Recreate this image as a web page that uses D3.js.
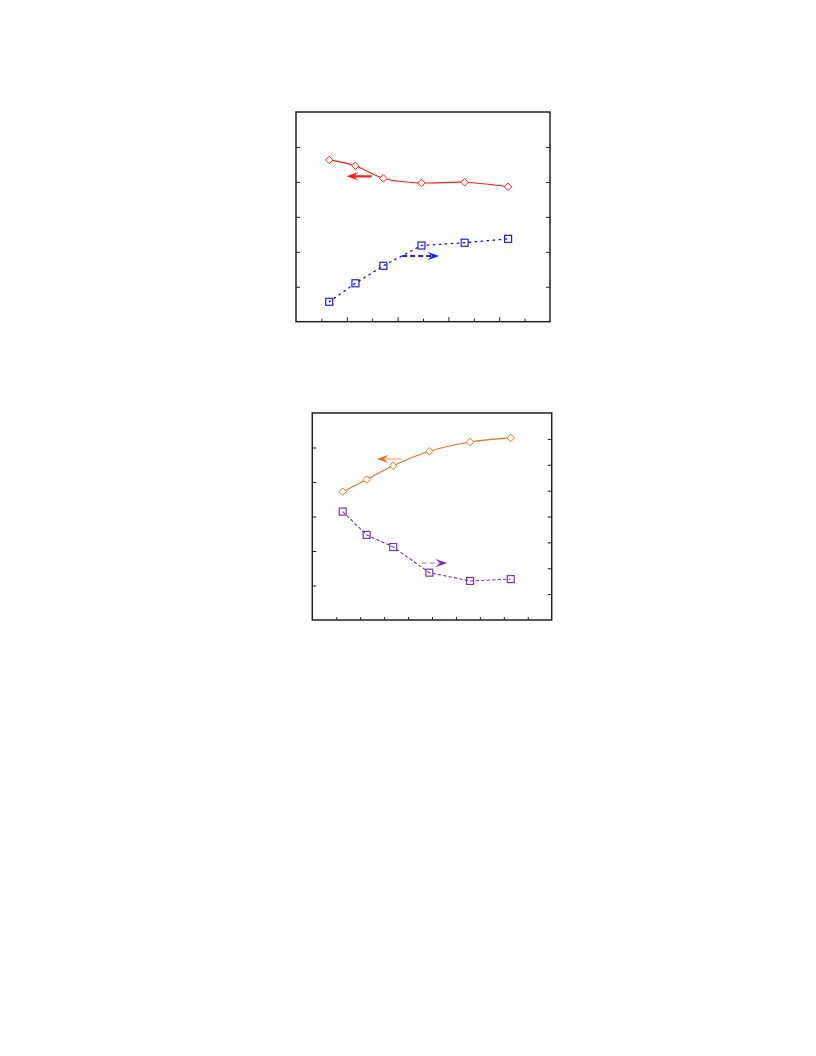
<!DOCTYPE html>
<html><head><meta charset="utf-8">
<script src="https://cdn.jsdelivr.net/npm/d3@7"></script>
<style>body{margin:0;background:#fff}svg{display:block}</style>
</head><body>
<script>
// ---- data ----
const xTop = [13.1, 23.4, 34.4, 49.4, 66.4, 83.5];
const redVals = [4.63, 4.46, 4.10, 3.97, 3.99, 3.86];      // left axis 0-6
const blueVals = [0.57, 1.10, 1.60, 2.18, 2.26, 2.37];     // right axis 0-6
const xBot = [12.7, 22.7, 33.8, 48.9, 65.9, 82.9];
const orangeVals = [3.72, 4.07, 4.47, 4.89, 5.16, 5.28];   // left axis 0-6
const purpleVals = [4.19, 3.29, 2.82, 1.83, 1.51, 1.58];   // right axis 0-8
const xTicks = [10, 20, 30, 40, 50, 60, 70, 80, 90];
const yTicksLeft = [1, 2, 3, 4, 5];
const yTicksRightBot = [1, 2, 3, 4, 5, 6, 7];
// arrow annotations [x0, x1, y] in data units
const arrowRed = [29.8, 19.9, 4.16];
const arrowBlue = [41.8, 56.4, 1.88];
const arrowOrange = [37.3, 26.9, 4.67];
const arrowPurple = [45.7, 56.4, 2.2];

const svg = d3.select("body").append("svg").attr("width", 816).attr("height", 1056);

function arrowHead(g, x, y, dir, color, len, half) {
  const p = d3.path();
  p.moveTo(x, y);
  p.lineTo(x - dir * len, y - half);
  p.lineTo(x - dir * len * 0.6, y);
  p.lineTo(x - dir * len, y + half);
  p.closePath();
  g.append("path").attr("d", p.toString()).attr("fill", color).attr("stroke", "none");
}

function panel(cfg) {
  const g = svg.append("g");
  const x = d3.scaleLinear().domain([0, 100]).range([cfg.x0, cfg.x1]);
  const yL = d3.scaleLinear().domain([0, 6]).range([cfg.y1, cfg.y0]);
  const yR = d3.scaleLinear().domain([0, cfg.rightMax]).range([cfg.y1, cfg.y0]);

  const ax = "#222";
  g.append("g").attr("transform", `translate(0,${cfg.y1})`)
    .call(d3.axisBottom(x).tickValues(xTicks).tickSizeInner(-1).tickSizeOuter(0).tickFormat(""))
    .call(s => s.select(".domain").remove())
    .call(s => s.selectAll(".tick line").attr("stroke", ax).attr("stroke-width", 1)
      .attr("y2", d => -(cfg.majorX && d % 20 === 0 ? 4.5 : 3)));
  g.append("g").attr("transform", `translate(${cfg.x0},0)`)
    .call(d3.axisLeft(yL).tickValues(yTicksLeft).tickSizeInner(-4).tickSizeOuter(0).tickFormat(""))
    .call(s => s.select(".domain").remove())
    .call(s => s.selectAll(".tick line").attr("stroke", ax).attr("stroke-width", 1));
  g.append("g").attr("transform", `translate(${cfg.x1},0)`)
    .call(d3.axisRight(yR).tickValues(cfg.rightTicks).tickSizeInner(-4).tickSizeOuter(0).tickFormat(""))
    .call(s => s.select(".domain").remove())
    .call(s => s.selectAll(".tick line").attr("stroke", ax).attr("stroke-width", 1));

  g.append("rect").attr("x", cfg.x0).attr("y", cfg.y0)
    .attr("width", cfg.x1 - cfg.x0).attr("height", cfg.y1 - cfg.y0)
    .attr("fill", "none").attr("stroke", ax).attr("stroke-width", 1.5);

  const line = (ys, yS, curve) => d3.line().x((d, i) => x(cfg.xs[i])).y(d => yS(d)).curve(curve)(ys);

  g.append("path").attr("d", line(cfg.a, yL, d3.curveCatmullRom.alpha(0.5))).attr("fill", "none")
    .attr("stroke", cfg.colA).attr("stroke-width", 1.1);
  g.append("path").attr("d", line(cfg.b, yR, d3.curveLinear)).attr("fill", "none")
    .attr("stroke", cfg.colB).attr("stroke-width", cfg.bWidth).attr("stroke-dasharray", cfg.bDash)
    .attr("stroke-linecap", cfg.bCap);

  const dia = d3.symbol().type(d3.symbolDiamond2).size(36);
  g.selectAll(".dm").data(cfg.a).enter().append("path")
    .attr("d", dia).attr("transform", (d, i) => `translate(${x(cfg.xs[i])},${yL(d)})`)
    .attr("fill", "#fff").attr("stroke", cfg.colA).attr("stroke-width", 1);
  g.selectAll(".sq").data(cfg.b).enter().append("rect")
    .attr("x", (d, i) => x(cfg.xs[i]) - 3.5).attr("y", d => yR(d) - 3.5)
    .attr("width", 7).attr("height", 7)
    .attr("fill", "none").attr("stroke", cfg.colB).attr("stroke-width", 1.2);

  const aA = cfg.arrA, aB = cfg.arrB;
  const ya = yL(aA[2]);
  g.append("line").attr("x1", x(aA[0])).attr("x2", x(aA[1]) + 7).attr("y1", ya).attr("y2", ya)
    .attr("stroke", cfg.arrAShaft).attr("stroke-width", 2.2);
  arrowHead(g, x(aA[1]), ya, -1, cfg.colA, 12, 4.2);
  const yb = yR(aB[2]);
  g.append("line").attr("x1", x(aB[0])).attr("x2", x(aB[1]) - 7).attr("y1", yb).attr("y2", yb)
    .attr("stroke", cfg.arrBShaft).attr("stroke-width", 1.8).attr("stroke-dasharray", "5,3");
  arrowHead(g, x(aB[1]), yb, 1, cfg.colB, 12, 4.2);
}

panel({
  x0: 296, x1: 550, y0: 112, y1: 321.7, rightMax: 6, rightTicks: yTicksLeft, majorX: true,
  xs: xTop, a: redVals, b: blueVals, colA: "#ff1a1a", colB: "#1f1fe6",
  bDash: "1.5,4.5", bWidth: 1.4, bCap: "round",
  arrA: arrowRed, arrB: arrowBlue, arrAShaft: "#ff1a1a", arrBShaft: "#1f1fe6"
});
panel({
  x0: 312.3, x1: 551.7, y0: 413, y1: 620, rightMax: 8, rightTicks: yTicksRightBot, majorX: false,
  xs: xBot, a: orangeVals, b: purpleVals, colA: "#e8701a", colB: "#7a36b0",
  bDash: "3.5,2", bWidth: 1.1, bCap: "butt",
  arrA: arrowOrange, arrB: arrowPurple, arrAShaft: "#f9cba8", arrBShaft: "#cdb0e6"
});
</script>
</body></html>
